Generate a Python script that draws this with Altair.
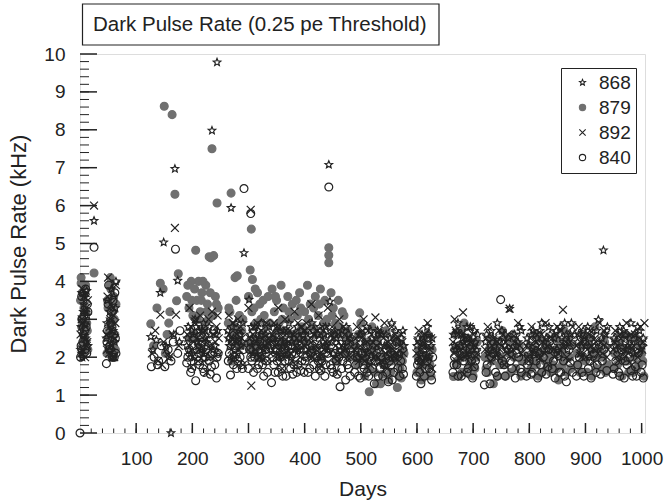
import altair as alt
import pandas as pd

TITLE = "Dark Pulse Rate (0.25 pe Threshold)"
X_TITLE = "Days"
Y_TITLE = "Dark Pulse Rate (kHz)"
SERIES = ["868", "879", "892", "840"]

# ---- PMT 879 (filled grey circles)
DAYS_879 = [2, 4, 5, 7, 8, 10, 12, 14, 3, 9, 25,
            48, 50, 52, 55, 57, 59, 61, 63, 54, 60,
            126, 131, 137, 143, 148, 150, 155, 160, 164, 169, 172, 175, 152, 158,
            190, 194, 198, 201, 204, 206, 208, 211, 214, 217, 220, 224, 227, 230, 233, 235, 238, 241, 244, 246, 196, 222, 213, 229,
            264, 267, 269, 272, 276, 280, 284, 287, 290, 270, 282,
            300, 303, 305, 307, 310, 313, 316, 320, 324, 328, 332, 302, 318,
            342, 346, 350, 354, 358, 362, 366, 370, 374, 378, 383, 387, 391, 395, 356, 368, 380,
            400, 405, 410, 414, 419, 424, 428, 432, 436, 440, 443, 443, 443, 447, 451, 455, 460, 465, 470, 475, 480, 412, 430, 458, 472,
            490, 494, 498, 502, 507, 511, 515, 520, 525, 530, 535, 540, 545, 550, 555, 560, 565, 570, 575, 500, 518, 538, 556, 572,
            600, 604, 608, 612, 617, 621, 625,
            665, 668, 672, 676, 680, 684, 688, 692, 696, 700, 705,
            721, 726, 731, 736, 741, 747, 752, 758, 764, 770, 776, 782, 787,
            796, 801, 806, 811, 816, 821, 826, 831, 836,
            842, 847, 852, 857, 862, 867, 872, 876,
            885, 890, 895, 900, 906, 911, 917, 922, 928, 934, 939,
            950, 955, 960, 965, 970, 975, 980, 985, 990, 995, 1000, 1004]
RATE_879 = [4.1, 3.7, 2.3, 3.3, 2.6, 3.9, 2.9, 2.2, 3.0, 2.5, 4.22,
            2.1, 3.3, 2.7, 3.8, 2.0, 2.4, 3.0, 2.2, 4.1, 3.6,
            2.88, 2.3, 3.3, 3.95, 3.8, 8.62, 2.6, 3.2, 8.40, 6.3, 3.49, 4.2, 2.1, 2.9,
            3.6, 3.3, 4.0, 3.1, 3.8, 4.82, 3.5, 4.0, 3.2, 3.7, 2.7, 3.9, 3.4, 4.65, 4.62, 7.5, 4.68, 3.6, 6.07, 3.3, 2.5, 2.9, 2.2, 3.0,
            2.9, 3.2, 6.33, 2.6, 4.1, 4.15, 3.1, 2.3, 3.0, 1.9, 2.4,
            3.6, 4.3, 5.38, 4.05, 3.3, 2.9, 3.7, 3.4, 2.6, 3.1, 2.8, 2.2, 2.0,
            3.8, 3.2, 3.5, 2.9, 3.9, 3.3, 2.7, 3.6, 3.0, 3.4, 2.6, 3.1, 3.7, 2.8, 2.3, 2.1, 2.4,
            3.2, 3.9, 3.4, 2.8, 3.6, 3.1, 3.8, 2.6, 3.5, 3.0, 4.89, 4.69, 4.49, 3.7, 3.3, 2.9, 3.5, 2.7, 3.1, 2.5, 2.3, 2.2, 2.0, 1.9, 2.1,
            2.3, 1.8, 3.17, 2.6, 1.5, 2.1, 1.09, 2.8, 1.6, 2.4, 1.3, 2.0, 2.7, 1.4, 1.9, 2.5, 1.2, 1.7, 2.2, 2.9, 2.35, 1.55, 2.05, 1.45,
            1.6, 2.2, 1.4, 2.5, 1.8, 2.0, 1.5,
            1.49, 2.6, 1.9, 2.3, 1.6, 2.9, 2.1, 1.7, 2.4, 1.5, 2.0,
            2.0, 1.6, 2.5, 1.3, 2.2, 1.8, 2.7, 1.5, 2.1, 2.4, 1.7, 2.3, 1.9,
            1.6, 2.3, 1.9, 2.6, 1.5, 2.1, 2.4, 1.7, 2.0,
            1.8, 2.5, 1.4, 2.2, 2.7, 1.6, 2.0, 2.3,
            2.1, 1.6, 2.6, 1.9, 2.3, 1.5, 2.8, 2.0, 1.7, 2.4, 1.8,
            1.7, 2.4, 2.0, 1.5, 2.6, 1.9, 2.2, 1.6, 2.5, 1.8, 2.1, 1.5]
DAYS_879_MORE = [1, 3, 6, 8, 11, 13, 2, 5,
                 49, 51, 53, 56, 58, 62, 64,
                 192, 199, 203, 209, 216, 219, 225, 232, 237, 243,
                 265, 274, 278, 288,
                 301, 306, 309, 312, 315, 322, 326, 330, 335, 338, 344, 348, 352, 360, 364, 372, 376,
                 385, 389, 393, 398, 402, 407, 416, 421, 426, 434, 438, 449, 453, 462, 467, 477, 481,
                 492, 496, 504, 509, 513, 523, 528, 533, 543, 548, 553, 558, 563, 568, 574, 577,
                 602, 606, 610, 615, 619, 623, 627,
                 667, 670, 674, 678, 682, 686, 690, 694, 698, 703, 707,
                 723, 728, 733, 739, 744, 750, 755, 761, 767, 773, 779, 785,
                 798, 803, 808, 813, 818, 823, 828, 833, 838,
                 844, 849, 854, 859, 864, 869, 874,
                 887, 892, 897, 903, 908, 913, 919, 925, 931, 936,
                 952, 957, 962, 967, 972, 977, 982, 987, 992, 997, 1002]
RATE_879_MORE = [3.5, 2.8, 3.6, 2.4, 3.2, 2.7, 3.95, 2.05,
                 3.5, 2.5, 3.9, 2.9, 3.2, 2.6, 3.4,
                 3.9, 3.5, 2.6, 3.0, 3.5, 4.0, 3.2, 3.7, 3.1, 3.4,
                 3.3, 2.8, 3.5, 2.7,
                 2.4, 3.2, 2.5, 3.8, 2.3, 3.0, 3.5, 2.4, 3.6, 2.9, 2.5, 3.6, 2.7, 3.0, 2.4, 3.2, 2.6,
                 3.5, 2.5, 3.3, 2.7, 2.4, 3.0, 3.3, 2.6, 3.4, 2.9, 2.3, 3.1, 2.6, 2.8, 3.2, 2.7, 2.0,
                 2.0, 2.6, 1.9, 2.4, 1.7, 2.2, 1.3, 2.6, 1.8, 2.3, 1.6, 2.0, 2.4, 1.5, 1.9, 2.1,
                 2.0, 1.7, 2.3, 1.5, 2.6, 1.8, 2.2,
                 2.2, 1.8, 1.5, 2.7, 2.0, 1.6, 2.5, 1.9, 2.2, 1.7, 2.4,
                 1.7, 2.2, 1.9, 2.4, 1.5, 2.0, 1.8, 2.5, 1.6, 2.0, 2.3, 1.5,
                 2.0, 1.7, 2.2, 1.8, 2.5, 1.6, 1.9, 2.3, 1.6,
                 2.1, 1.7, 2.4, 1.8, 2.0, 2.5, 1.7,
                 1.8, 2.3, 2.0, 1.6, 2.5, 2.1, 1.7, 2.2, 2.0, 1.6,
                 2.1, 1.8, 2.3, 1.9, 2.2, 1.6, 2.5, 2.0, 1.7, 2.3, 1.9]

# ---- PMT 840 (open circles)
DAYS_840 = [0, 1, 3, 5, 7, 9, 11, 13, 6, 25,
            47, 49, 51, 53, 56, 58, 60, 62, 64, 55,
            127, 132, 138, 145, 151, 157, 162, 166, 170, 174, 178, 140,
            190, 195, 199, 203, 206, 209, 213, 217, 221, 225, 230, 234, 238, 243, 246,
            264, 268, 271, 275, 279, 283, 287, 291, 292,
            300, 304, 304, 309, 314, 318, 323, 327, 332,
            341, 345, 349, 353, 357, 361, 365, 370, 375, 379, 384, 388, 393,
            399, 404, 409, 414, 419, 424, 429, 434, 438, 443, 448, 453, 458, 463, 468, 473, 478,
            489, 494, 499, 504, 509, 514, 519, 524, 529, 534, 539, 544, 549, 554, 559, 564, 569, 574,
            599, 603, 607, 611, 615, 620, 624, 628,
            664, 667, 671, 675, 679, 683, 687, 691, 695, 699, 704,
            720, 725, 730, 735, 740, 745, 749, 752, 757, 763, 769, 775, 781, 786,
            795, 800, 805, 810, 815, 820, 825, 830, 835,
            841, 846, 851, 856, 861, 866, 871, 877,
            884, 889, 894, 899, 905, 910, 916, 921, 927, 933, 938,
            949, 954, 959, 964, 969, 974, 979, 984, 989, 994, 999, 1003]
RATE_840 = [0.0, 2.0, 3.6, 2.4, 3.1, 2.2, 2.8, 3.4, 2.6, 4.9,
            1.83, 2.7, 3.9, 2.3, 3.2, 2.0, 2.6, 3.7, 2.1, 2.9,
            1.75, 2.0, 1.8, 2.3, 1.75, 2.2, 1.9, 2.4, 4.85, 2.1, 2.7, 1.9,
            1.85, 2.2, 1.7, 2.5, 1.38, 2.0, 1.8, 2.4, 1.6, 2.2, 1.9, 1.75, 2.7, 1.45, 2.1,
            1.9, 1.53, 2.4, 2.0, 1.7, 2.6, 1.8, 2.2, 6.45,
            1.7, 2.0, 5.79, 1.6, 2.3, 1.8, 2.1, 1.5, 1.9,
            1.33, 1.8, 2.2, 1.6, 2.0, 1.5, 1.9, 2.3, 1.7, 1.55, 2.1, 1.8, 1.65,
            1.6, 2.0, 1.7, 2.3, 1.5, 1.9, 1.65, 2.2, 1.8, 6.49, 1.7, 2.1, 1.55, 1.22, 1.9, 1.4, 1.7,
            1.6, 2.0, 1.45, 1.8, 2.3, 1.5, 1.9, 1.3, 2.1, 1.7, 1.5, 2.2, 1.35, 1.8, 1.6, 2.4, 1.5, 1.7,
            1.5, 1.9, 1.3, 2.2, 1.7, 2.5, 1.6, 2.0,
            1.6, 2.0, 1.8, 2.3, 1.5, 1.9, 2.5, 1.7, 2.2, 1.45, 1.9,
            1.27, 1.8, 1.3, 2.1, 1.6, 2.4, 3.52, 1.9, 1.5, 2.2, 1.7, 1.45, 2.0, 1.6,
            1.5, 1.9, 1.6, 2.3, 1.45, 1.8, 2.0, 1.55, 2.2,
            1.7, 1.45, 2.1, 1.6, 1.9, 1.35, 2.2, 1.6,
            1.5, 2.0, 1.6, 2.4, 1.7, 1.45, 2.1, 1.8, 1.55, 2.2, 1.65,
            1.55, 1.9, 1.6, 2.2, 1.45, 1.8, 2.0, 1.5, 1.75, 2.1, 1.6, 1.45]
DAYS_840_MORE = [2, 4, 8, 10, 12, 14,
                 48, 50, 52, 57, 59, 61, 63,
                 192, 197, 201, 211, 215, 219, 223, 228, 232, 236, 240, 244,
                 266, 273, 277, 281, 285, 289,
                 302, 306, 311, 316, 320, 325, 330, 334,
                 343, 347, 351, 355, 359, 363, 367, 372, 377, 381, 386, 390, 395,
                 401, 406, 411, 416, 421, 426, 431, 436, 441, 446, 451, 456, 461, 466, 471, 476, 481,
                 491, 496, 501, 506, 511, 516, 521, 526, 531, 536, 541, 546, 551, 556, 561, 566, 571, 576,
                 601, 605, 609, 613, 618, 622, 626,
                 666, 673, 681, 689, 697, 702, 723, 733, 743, 755, 766, 778, 784,
                 797, 803, 812, 822, 833, 843, 853, 863, 873, 886, 897, 908, 919, 930,
                 951, 961, 971, 981, 991, 1001]
RATE_840_MORE = [2.3, 3.0, 2.7, 3.8, 2.1, 3.2,
                 2.4, 3.4, 2.2, 2.8, 3.5, 2.0, 2.5,
                 2.0, 1.6, 2.3, 1.9, 2.1, 1.7, 2.0, 2.3, 1.55, 2.1, 1.8, 2.0,
                 2.1, 1.8, 2.3, 1.9, 2.0, 1.7,
                 2.2, 1.9, 2.0, 1.7, 2.4, 1.8, 2.2, 1.6,
                 2.0, 1.6, 1.9, 2.4, 1.7, 2.2, 1.5, 1.9, 2.1, 1.8, 1.6, 2.2, 1.9,
                 1.9, 1.6, 2.1, 1.8, 2.0, 1.7, 1.9, 1.5, 2.1, 1.8, 1.6, 1.9, 2.0, 1.7, 2.1, 1.8, 1.5,
                 1.8, 1.5, 2.1, 1.7, 1.6, 2.0, 1.7, 1.9, 1.5, 2.0, 1.8, 1.6, 1.9, 1.4, 2.0, 1.7, 1.9, 1.55,
                 1.8, 1.6, 2.0, 1.5, 1.9, 1.7, 1.4,
                 1.8, 1.5, 2.1, 1.6, 1.9, 1.75, 1.6, 2.0, 1.5, 1.8, 1.9, 2.1, 1.7,
                 1.8, 1.55, 1.9, 1.6, 1.75, 1.9, 1.6, 1.5, 1.85, 1.8, 1.5, 1.9, 1.6, 1.9,
                 1.7, 1.5, 1.9, 1.65, 1.5, 1.8]

# ---- PMT 892 (crosses)
DAYS_892 = [2, 4, 6, 8, 10, 12, 14, 5, 9, 11, 25,
            48, 50, 53, 55, 58, 60, 62, 64, 57,
            128, 134, 139, 143, 149, 154, 159, 165, 169, 171, 176, 146,
            191, 195, 200, 204, 207, 210, 214, 218, 222, 226, 231, 235, 239, 243, 247, 198, 219,
            265, 268, 272, 275, 279, 283, 286, 290,
            300, 304, 305, 308, 312, 316, 321, 325, 330, 334,
            341, 345, 349, 353, 357, 361, 365, 369, 373, 377, 382, 386, 390, 394, 360, 384,
            399, 403, 408, 412, 416, 421, 425, 429, 433, 437, 441, 445, 449, 453, 458, 462, 467, 471, 476, 481, 427, 456,
            489, 493, 497, 501, 505, 509, 513, 517, 521, 526, 530, 534, 538, 542, 547, 551, 555, 559, 563, 568, 572, 576,
            599, 603, 607, 611, 615, 619, 623, 627,
            664, 667, 670, 674, 678, 682, 686, 690, 694, 698, 703, 707, 684,
            721, 726, 731, 736, 741, 746, 751, 756, 762, 765, 768, 774, 780, 786,
            795, 799, 804, 809, 814, 819, 824, 829, 834, 838,
            841, 845, 850, 855, 860, 865, 870, 875,
            884, 888, 893, 898, 903, 908, 914, 919, 925, 930, 936, 940,
            949, 953, 958, 963, 968, 973, 978, 983, 988, 993, 998, 1003]
RATE_892 = [2.1, 3.8, 2.5, 3.2, 2.8, 2.3, 3.5, 2.9, 2.0, 3.3, 6.0,
            2.2, 4.1, 2.8, 3.4, 2.0, 3.1, 2.5, 3.9, 2.3,
            2.1, 2.7, 1.9, 3.12, 2.4, 2.2, 2.0, 2.6, 5.41, 3.12, 2.3, 1.8,
            2.6, 3.3, 2.2, 2.9, 2.5, 1.9, 3.1, 2.4, 2.7, 1.6, 2.3, 3.2, 2.0, 2.8, 2.5, 1.75, 2.1,
            3.1, 2.4, 2.9, 2.0, 2.6, 2.2, 2.8, 1.8,
            3.3, 5.89, 1.25, 2.6, 2.2, 2.9, 2.0, 2.5, 2.3, 1.9,
            2.4, 2.9, 2.1, 3.3, 2.6, 2.0, 3.0, 2.3, 2.7, 1.9, 3.2, 2.5, 2.2, 2.8, 1.7, 1.8,
            2.3, 2.9, 2.0, 3.4, 2.6, 2.2, 3.1, 1.8, 2.7, 2.4, 3.3, 2.1, 2.8, 2.5, 1.9, 3.0, 2.3, 2.6, 2.0, 2.4, 1.7, 1.6,
            2.2, 2.8, 1.9, 2.5, 3.0, 2.1, 2.7, 1.8, 2.4, 3.05, 2.0, 2.6, 2.2, 2.9, 1.7, 2.3, 2.8, 2.0, 2.5, 1.9, 2.6, 2.1,
            2.1, 2.7, 1.8, 2.4, 2.0, 2.9, 2.2, 1.7,
            2.4, 3.0, 1.9, 2.6, 2.2, 3.18, 2.0, 2.5, 2.8, 1.8, 2.3, 2.1, 1.55,
            2.2, 2.8, 1.9, 2.5, 2.1, 2.7, 2.3, 1.8, 2.6, 3.28, 2.0, 2.4, 2.9, 2.1,
            2.3, 1.9, 2.8, 2.1, 2.6, 2.0, 2.4, 2.9, 1.8, 2.2,
            2.5, 2.0, 2.8, 2.2, 3.25, 2.4, 1.9, 2.6,
            2.3, 2.8, 2.0, 2.5, 2.2, 2.7, 1.9, 2.4, 2.9, 2.1, 2.6, 2.2,
            2.2, 2.7, 1.9, 2.5, 2.1, 2.9, 2.3, 1.8, 2.6, 2.0, 2.8, 2.4]
DAYS_892_MORE = [1, 3, 7, 13, 4, 10,
                 47, 49, 52, 54, 56, 59, 61, 63,
                 193, 197, 202, 206, 212, 216, 221, 224, 229, 233, 237, 241, 245,
                 266, 270, 277, 281, 288,
                 302, 306, 310, 314, 318, 323, 327, 332, 336, 339, 343, 347, 351, 355, 359, 363, 367,
                 371, 375, 380, 384, 388, 392, 396, 401, 406, 410, 414, 419, 423, 427, 431, 435, 439,
                 443, 447, 451, 455, 460, 464, 469, 473, 478, 482,
                 491, 495, 499, 503, 507, 511, 515, 519, 523, 528, 532, 536, 540, 544, 549, 553, 557,
                 561, 565, 570, 574,
                 601, 605, 609, 613, 617, 621, 625,
                 666, 669, 672, 676, 680, 688, 692, 696, 700, 705,
                 723, 728, 733, 738, 743, 748, 753, 758, 760, 771, 777, 783,
                 797, 802, 807, 812, 817, 822, 827, 832, 836,
                 843, 848, 852, 857, 862, 867, 872, 877,
                 886, 891, 896, 901, 906, 911, 917, 922, 928, 933, 938,
                 951, 956, 961, 966, 971, 976, 981, 986, 991, 996, 1001, 1005]
RATE_892_MORE = [2.6, 3.0, 3.6, 2.4, 2.2, 3.7,
                 2.6, 3.6, 2.1, 3.0, 2.7, 3.3, 2.0, 2.9,
                 2.0, 2.8, 2.4, 3.0, 2.2, 2.7, 1.9, 2.5, 3.0, 2.2, 2.6, 2.4, 3.1,
                 2.6, 2.2, 2.4, 3.0, 2.5,
                 2.5, 2.1, 2.8, 2.4, 2.0, 2.7, 2.2, 2.9, 2.4, 2.1, 2.6, 2.3, 2.8, 2.0, 2.5, 2.2, 2.7,
                 2.4, 2.1, 2.6, 2.3, 2.9, 2.0, 2.5, 2.7, 2.2, 2.5, 2.0, 2.3, 2.7, 2.1, 2.5, 2.2, 2.8,
                 2.4, 2.6, 2.0, 2.3, 2.6, 2.1, 2.8, 2.2, 2.5, 2.0,
                 2.5, 2.1, 2.3, 2.7, 1.9, 2.4, 2.2, 2.6, 2.0, 2.3, 2.7, 1.9, 2.5, 2.1, 2.4, 2.0, 2.2,
                 2.6, 2.1, 2.3, 2.4,
                 2.4, 2.0, 2.3, 2.6, 1.9, 2.3, 2.5,
                 2.1, 2.7, 2.3, 2.0, 2.6, 2.3, 2.0, 2.4, 2.6, 2.0,
                 2.5, 2.1, 2.3, 2.0, 2.4, 2.2, 2.6, 2.4, 2.1, 2.2, 2.5, 2.3,
                 2.0, 2.5, 2.2, 2.4, 2.2, 2.6, 2.1, 2.3, 2.5,
                 2.2, 2.6, 2.1, 2.7, 2.3, 2.0, 2.4, 2.8,
                 2.6, 2.1, 2.4, 2.0, 2.6, 2.3, 2.5, 2.1, 2.4, 2.7, 2.0,
                 2.4, 2.0, 2.6, 2.2, 2.5, 2.1, 2.6, 2.3, 2.1, 2.5, 2.2, 2.9]

# ---- PMT 868 (stars)
DAYS_868 = [1, 3, 5, 7, 9, 11, 13, 4, 8, 25,
            47, 49, 52, 54, 56, 59, 61, 63,
            126, 130, 136, 143, 149, 153, 158, 162, 167, 169, 174, 177,
            190, 193, 197, 202, 205, 209, 212, 216, 220, 223, 228, 232, 235, 240, 244, 245,
            263, 266, 269, 273, 277, 281, 285, 289, 292,
            301, 303, 306, 311, 315, 319, 323, 327, 331, 335,
            342, 347, 351, 355, 359, 363, 368, 372, 376, 381, 385, 389, 393,
            400, 404, 409, 413, 418, 422, 427, 431, 435, 439, 443, 445, 449, 454, 459, 464, 469, 474, 479, 483,
            490, 495, 500, 505, 510, 515, 520, 525, 530, 535, 540, 545, 550, 555, 560, 565, 570, 575,
            600, 605, 609, 614, 618, 622, 627,
            665, 669, 673, 677, 681, 685, 689, 693, 697, 702, 706,
            722, 727, 732, 738, 743, 748, 754, 760, 765, 771, 777, 783, 788,
            796, 801, 807, 812, 817, 822, 827, 832, 837,
            843, 848, 853, 858, 863, 868, 873,
            886, 891, 896, 901, 907, 912, 918, 923, 929, 932, 937,
            951, 956, 961, 966, 971, 976, 981, 986, 991, 996, 1001]
RATE_868 = [2.2, 3.7, 2.6, 3.4, 2.9, 2.4, 3.1, 2.0, 3.6, 5.6,
            2.5, 3.5, 2.2, 3.0, 3.8, 2.7, 2.1, 3.3,
            2.54, 2.2, 2.45, 3.7, 5.03, 2.3, 2.0, 0.0, 2.6, 6.97, 4.02, 2.4,
            2.3, 2.8, 2.1, 2.6, 3.0, 2.4, 2.7, 2.2, 2.9, 2.5, 2.0, 2.6, 7.98, 2.3, 9.78, 2.7,
            2.7, 2.3, 5.94, 2.5, 2.9, 2.1, 2.6, 2.4, 4.75,
            3.52, 2.6, 2.3, 2.8, 2.1, 2.5, 2.9, 2.2, 2.6, 2.4,
            2.5, 2.2, 2.8, 2.4, 2.1, 2.7, 2.3, 2.9, 2.0, 2.6, 2.4, 2.2, 2.7,
            2.4, 2.7, 2.1, 2.9, 2.5, 2.2, 2.8, 2.0, 2.6, 2.3, 7.08, 3.47, 2.4, 2.7, 2.1, 2.5, 2.3, 2.8, 2.6, 2.2,
            2.4, 2.0, 2.6, 2.2, 2.8, 1.9, 2.5, 2.1, 2.7, 2.3, 1.8, 2.6, 2.2, 2.9, 2.0, 2.4, 2.1, 2.7,
            2.3, 1.9, 2.6, 2.2, 2.8, 2.0, 2.5,
            2.6, 2.2, 2.9, 2.0, 2.5, 2.3, 2.8, 2.1, 2.4, 2.7, 2.2,
            2.4, 2.1, 2.7, 2.3, 2.9, 2.0, 2.5, 2.2, 3.28, 2.6, 2.3, 2.8, 2.1,
            2.5, 2.1, 2.7, 2.3, 2.0, 2.9, 2.4, 2.2, 2.6,
            2.3, 2.7, 2.0, 2.5, 2.9, 2.2, 2.6,
            2.4, 2.1, 2.7, 2.3, 2.0, 2.6, 2.2, 2.99, 2.5, 4.82, 2.3,
            2.5, 2.2, 2.8, 2.0, 2.6, 2.3, 2.9, 2.1, 2.4, 2.7, 2.3]
DAYS_868_MORE = [2, 6, 10, 12, 14, 3,
                 48, 50, 53, 55, 57, 60, 62, 64,
                 191, 195, 199, 204, 207, 211, 214, 218, 222, 226, 230, 237, 242, 246,
                 264, 268, 271, 275, 279, 283, 287, 290,
                 302, 305, 308, 313, 317, 321, 325, 329, 333, 337, 340, 344, 349, 353, 357, 361, 365,
                 370, 374, 378, 383, 387, 391, 395, 398, 402, 406, 411, 415, 420, 424, 429, 433, 437,
                 441, 447, 451, 456, 461, 466, 471, 476, 481,
                 492, 497, 502, 507, 512, 517, 522, 527, 532, 537, 542, 547, 552, 557, 562, 567, 572, 577,
                 602, 607, 611, 616, 620, 625,
                 667, 671, 675, 679, 683, 687, 691, 695, 699, 704, 708,
                 724, 730, 735, 741, 746, 751, 757, 763, 768, 774, 780, 786,
                 798, 804, 809, 814, 819, 825, 830, 835,
                 845, 850, 855, 860, 866, 870, 875,
                 888, 893, 898, 904, 909, 915, 920, 926, 935, 939,
                 953, 958, 963, 968, 973, 978, 983, 988, 993, 998, 1003]
RATE_868_MORE = [2.8, 3.2, 2.5, 3.75, 2.3, 2.1,
                 2.9, 2.3, 3.2, 2.6, 2.0, 3.6, 2.4, 4.0,
                 2.5, 2.2, 2.7, 2.0, 2.8, 2.3, 2.5, 2.7, 2.1, 2.4, 2.8, 2.2, 2.6, 2.1,
                 2.5, 2.0, 2.8, 2.2, 2.4, 2.7, 2.3, 2.9,
                 2.4, 2.8, 2.1, 2.5, 2.7, 2.3, 2.0, 2.6, 2.3, 2.8, 2.2, 2.6, 2.4, 2.0, 2.7, 2.3, 2.5,
                 2.1, 2.6, 2.4, 2.2, 2.8, 2.5, 2.3, 2.6, 2.2, 2.5, 2.3, 2.7, 2.0, 2.6, 2.3, 2.4, 2.8,
                 2.2, 2.6, 2.1, 2.5, 2.3, 2.7, 2.2, 2.4, 2.5,
                 2.2, 2.6, 2.0, 2.4, 2.1, 2.7, 2.3, 2.5, 1.9, 2.6, 2.3, 2.0, 2.5, 2.2, 2.7, 2.1, 2.5, 2.3,
                 2.5, 2.1, 2.4, 2.0, 2.6, 2.3,
                 2.3, 2.7, 2.2, 2.6, 2.4, 2.1, 2.5, 2.8, 2.2, 2.4, 2.6,
                 2.6, 2.3, 2.5, 2.1, 2.4, 2.7, 2.3, 2.5, 2.2, 2.6, 2.4, 2.7,
                 2.3, 2.6, 2.1, 2.5, 2.7, 2.2, 2.5, 2.8,
                 2.5, 2.2, 2.8, 2.3, 2.6, 2.4, 2.9,
                 2.6, 2.3, 2.5, 2.8, 2.2, 2.4, 2.7, 2.3, 2.6, 2.8,
                 2.3, 2.6, 2.4, 2.7, 2.2, 2.5, 2.3, 2.6, 2.8, 2.2, 2.5]

X_MAJOR = [100, 200, 300, 400, 500, 600, 700, 800, 900, 1000]
X_MINOR = list(range(20, 1001, 20))
Y_MAJOR = [0, 1, 2, 3, 4, 5, 6, 7, 8, 9, 10]
Y_MINOR = [round(i * 0.2, 1) for i in range(1, 50)]

# ---- build the table (draw order: 879, 840, 892, 868)
rows = []
for name, days, rates in [("879", DAYS_879 + DAYS_879_MORE, RATE_879 + RATE_879_MORE),
                          ("840", DAYS_840 + DAYS_840_MORE, RATE_840 + RATE_840_MORE),
                          ("892", DAYS_892 + DAYS_892_MORE, RATE_892 + RATE_892_MORE),
                          ("868", DAYS_868 + DAYS_868_MORE, RATE_868 + RATE_868_MORE)]:
    for d, r in zip(days, rates):
        rows.append({"day": d, "rate": r, "pmt": name})
df = pd.DataFrame(rows)

W, H = 565, 379
FONT = "Liberation Sans"
INK = "#222222"
GREY = "#707070"
STAR = ("M0,-1L0.265,-0.364L0.951,-0.309L0.428,0.139L0.588,0.809L0,0.45"
        "L-0.588,0.809L-0.428,0.139L-0.951,-0.309L-0.265,-0.364Z")
CROSS = "M-1,-1L1,1M-1,1L1,-1"

xs = alt.Scale(domain=[0, 1006], nice=False, zero=False)
ys = alt.Scale(domain=[0, 10], nice=False)

x_axis = alt.Axis(title=X_TITLE, values=X_MAJOR, format="d", ticks=False, tickSize=0, domain=False,
                  grid=False, labelFontSize=19, labelFont=FONT, labelColor=INK,
                  labelPadding=16, labelOverlap=False, titleFontSize=21, titleFont=FONT,
                  titleColor=INK, titleFontWeight="normal", titlePadding=10)
y_axis = alt.Axis(title=Y_TITLE, values=Y_MAJOR, format="d", ticks=False, tickSize=0, domain=False,
                  grid=False, labelFontSize=19, labelFont=FONT, labelColor=INK,
                  labelPadding=15, labelOverlap=False, titleFontSize=22, titleFont=FONT,
                  titleColor=INK, titleFontWeight="normal", titlePadding=13)

leg = alt.Legend(title=None, orient="none", legendX=481, legendY=14,
                 labelFontSize=19, labelFont=FONT, labelColor=INK,
                 symbolSize=40, symbolStrokeWidth=1.1, rowPadding=5,
                 padding=5, strokeColor=INK, fillColor="white",
                 labelOffset=7, symbolOffset=7)

points = alt.Chart(df).mark_point(size=62, strokeWidth=1.2, opacity=1).encode(
    x=alt.X("day:Q", scale=xs, axis=x_axis),
    y=alt.Y("rate:Q", scale=ys, axis=y_axis),
    shape=alt.Shape("pmt:N", sort=SERIES,
                    scale=alt.Scale(domain=SERIES, range=[STAR, "circle", CROSS, "circle"]),
                    legend=leg),
    stroke=alt.Stroke("pmt:N", sort=SERIES,
                      scale=alt.Scale(domain=SERIES, range=[INK, GREY, INK, INK]),
                      legend=leg),
    fill=alt.Fill("pmt:N", sort=SERIES,
                  scale=alt.Scale(domain=SERIES, range=["transparent", GREY, "transparent", "transparent"]),
                  legend=leg),
)

xmaj = alt.Chart(pd.DataFrame({"day": X_MAJOR})).mark_rule(color=INK, strokeWidth=1.5).encode(
    x=alt.X("day:Q", scale=xs, axis=x_axis), y=alt.value(H), y2=alt.value(H - 10))
xmin = alt.Chart(pd.DataFrame({"day": X_MINOR})).mark_rule(color=INK, strokeWidth=1).encode(
    x=alt.X("day:Q", scale=xs, axis=x_axis), y=alt.value(H), y2=alt.value(H - 4.5))
ymaj = alt.Chart(pd.DataFrame({"rate": Y_MAJOR})).mark_rule(color=INK, strokeWidth=1.5).encode(
    y=alt.Y("rate:Q", scale=ys, axis=y_axis), x=alt.value(0), x2=alt.value(17))
ymin = alt.Chart(pd.DataFrame({"rate": Y_MINOR})).mark_rule(color=INK, strokeWidth=1).encode(
    y=alt.Y("rate:Q", scale=ys, axis=y_axis), x=alt.value(0), x2=alt.value(9))

one = pd.DataFrame({"k": [0]})
tbox = alt.Chart(one).mark_rect(fill="white", stroke=INK, strokeWidth=1.2).encode(
    x=alt.value(2.5), x2=alt.value(359), y=alt.value(-50), y2=alt.value(-9))
ttext = alt.Chart(one).mark_text(align="left", baseline="middle", font=FONT, fontSize=20.5,
                                 color=INK).encode(
    x=alt.value(13), y=alt.value(-29), text=alt.value(TITLE))

chart = alt.layer(points, tbox, ttext, xmin, xmaj, ymin, ymaj).properties(
    width=W, height=H,
    padding={"left": 80, "top": 54, "right": 20, "bottom": 71},
    autosize=alt.AutoSizeParams(type="none"),
).configure_view(stroke=INK, strokeWidth=2).configure(background="white")

chart.save("out.html", embed_options={"renderer": "svg", "actions": False})
